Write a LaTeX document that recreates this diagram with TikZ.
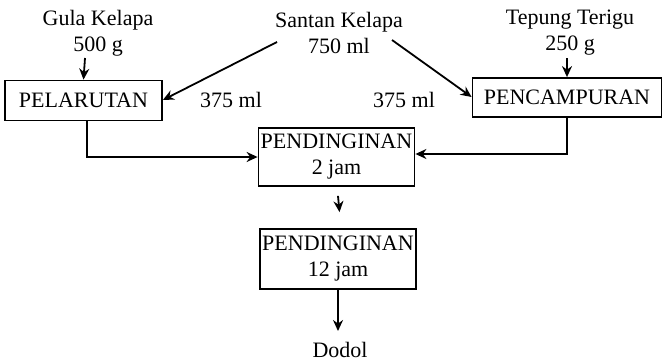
\documentclass[tikz,border=0pt]{standalone}
\usepackage{fontspec}
\setmainfont{Liberation Serif}
\usetikzlibrary{arrows.meta,calc}
\begin{document}
\begin{tikzpicture}[x=1pt,y=-1pt,
  txt/.style={font=\fontsize{22}{26}\selectfont, inner sep=0pt, align=center},
  box/.style={draw, line width=1.8pt, txt, minimum height=40pt},
  arr/.style={line width=1.8pt, -{Stealth[length=11pt,width=10pt]}}]
\useasboundingbox (0,0) rectangle (663,361);
\node[txt] (gula) at (98,33) {Gula Kelapa\\500 g};
\node[txt] (santan) at (339,33) {Santan Kelapa\\750 ml};
\node[txt] (tepung) at (570,33) {Tepung Terigu\\250 g};
\node[box, minimum width=157pt] (pel) at (83.5,100.5) {PELARUTAN};
\node[box, minimum width=189pt, minimum height=39pt] (pen) at (567,97.5) {PENCAMPURAN};
\node[box, minimum width=156pt, minimum height=58pt] (p2) at (336.5,157) {PENDINGINAN\\2 jam};
\node[box, minimum width=156pt, minimum height=60pt] (p3) at (338,259) {PENDINGINAN\\12 jam};
\node[txt] (dodol) at (340,350) {Dodol};
\node[txt] (ml1) at (231,100) {375 ml};
\node[txt] (ml2) at (404,100) {375 ml};
\coordinate (sanL) at (277,42);
\coordinate (sanR) at (392,40);
\draw[arr] (85,58) -- (pel.north);
\draw[arr] (567,58) -- (pen.north);
\draw[arr] (sanL) -- (pel.east |- 0,100);
\draw[arr] (sanR) -- (pen.west |- 0,97);
\draw[arr] (87,120.5) |- (p2.west |- 0,157);
\draw[arr] (567,117) |- (p2.east |- 0,154);
\draw[arr] ($(p2.south)+(1.5,9)$) -- ($(p3.north)+(1.5,-16)$);
\draw[arr] (p3.south) -- (338,331);
\end{tikzpicture}
\end{document}
